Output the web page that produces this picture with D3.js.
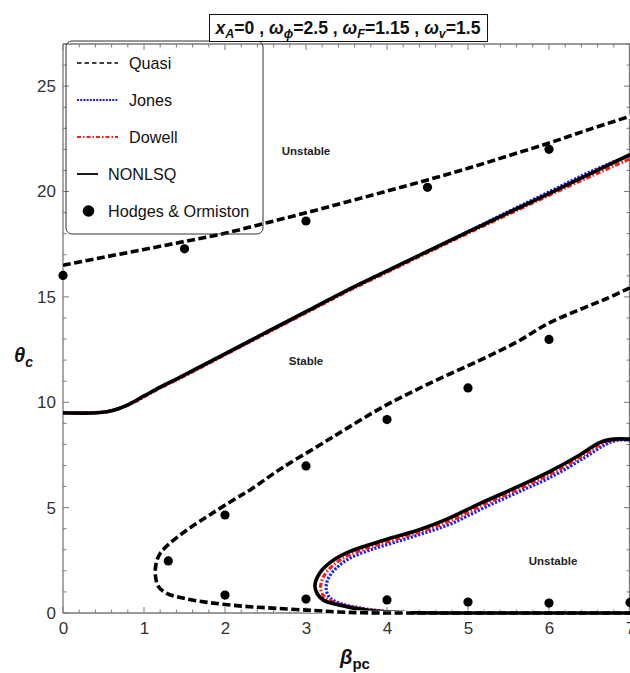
<!DOCTYPE html>
<html><head><meta charset="utf-8">
<script src="https://cdn.jsdelivr.net/npm/d3@7"></script>
<style>body{margin:0;background:#fff}svg{display:block;font-family:"Liberation Sans",Arial,sans-serif}</style>
</head><body><svg id="c" width="630" height="673"></svg>
<script>
// ---------- data ----------
const xTicks = [0,1,2,3,4,5,6,7];
const yTicks = [0,5,10,15,20,25];
const quasiUpper = [[0,16.5],[0.5,16.88],[1,17.25],[1.5,17.63],[2,18.02],[2.5,18.5],[3,18.99],[3.5,19.5],[4,20.02],[4.5,20.55],[5,21.1],[5.5,21.7],[6,22.3],[6.5,22.95],[7,23.57]];
const quasiLower = [[7,15.43],[6.7,14.9],[6.38,14.4],[6.0,13.76],[5.6,12.85],[5.15,12.0],[4.5,10.85],[3.96,9.8],[3.5,8.75],[3.17,7.97],[2.69,6.85],[2.31,5.84],[2.14,5.45],[1.81,4.65],[1.53,3.94],[1.32,3.31],[1.2,2.83],[1.15,2.35],[1.14,1.8],[1.18,1.25],[1.28,0.93],[1.49,0.7],[1.81,0.49],[2.23,0.32],[2.64,0.22],[3.09,0.12],[3.4,0.05],[3.7,0.01],[4.2,0],[7,0]];
const nonlsqUpper = [[0,9.5],[0.4,9.5],[0.6,9.6],[0.8,9.88],[1.0,10.3],[1.2,10.72],[1.4,11.1],[2,12.3],[2.5,13.3],[3,14.3],[3.5,15.3],[4,16.23],[4.5,17.16],[5,18.08],[5.5,19.0],[6,19.9],[6.5,20.83],[7,21.75]];
const jonesUpper  = [[0,9.5],[0.4,9.5],[0.6,9.6],[0.8,9.88],[1.0,10.28],[1.2,10.7],[1.4,11.08],[2,12.28],[2.5,13.28],[3,14.28],[3.5,15.28],[4,16.22],[4.5,17.16],[5,18.1],[5.5,19.05],[6,19.98],[6.5,20.92],[7,21.72]];
const dowellUpper = [[0,9.5],[0.4,9.5],[0.6,9.6],[0.8,9.86],[1.0,10.26],[1.2,10.68],[1.4,11.05],[2,12.25],[2.5,13.25],[3,14.24],[3.5,15.24],[4,16.17],[4.5,17.1],[5,18.02],[5.5,18.92],[6,19.82],[6.5,20.7],[7,21.55]];
const nonlsqLoop = [[7,8.25],[6.8,8.25],[6.63,8.1],[6.38,7.5],[6.0,6.7],[5.56,5.9],[5.15,5.2],[4.74,4.45],[4.4,3.95],[4.04,3.55],[3.75,3.2],[3.5,2.85],[3.3,2.4],[3.17,1.9],[3.11,1.3],[3.14,0.9],[3.22,0.6],[3.5,0.3],[3.9,0.08],[4.3,0.01],[4.8,0],[7,0]];
const jonesLoop  = [[7,8.2],[6.85,8.2],[6.7,8.0],[6.45,7.4],[6.05,6.5],[5.6,5.7],[5.2,5.0],[4.8,4.25],[4.45,3.78],[4.1,3.36],[3.8,3.0],[3.55,2.62],[3.38,2.15],[3.27,1.6],[3.25,1.1],[3.3,0.7],[3.45,0.42],[3.7,0.22],[4.0,0.07],[4.4,0.01],[4.8,0],[7,0]];
const dowellLoop = [[7,8.22],[6.82,8.22],[6.66,8.05],[6.41,7.45],[6.02,6.6],[5.58,5.8],[5.17,5.1],[4.77,4.35],[4.42,3.87],[4.07,3.45],[3.77,3.1],[3.52,2.73],[3.34,2.28],[3.22,1.75],[3.18,1.2],[3.22,0.8],[3.35,0.5],[3.6,0.26],[3.95,0.08],[4.35,0.01],[4.8,0],[7,0]];
const hodges = [[0,16.02],[1.5,17.28],[3,18.6],[4.5,20.2],[6,22.0],[6,12.98],[5,10.68],[4,9.18],[3,6.98],[2,4.65],[1.3,2.47],[2,0.85],[3,0.66],[4,0.62],[5,0.52],[6,0.47],[7,0.5]];
const regionLabels = [{t:"Unstable",x:3,y:21.9},{t:"Stable",x:3,y:11.9},{t:"Unstable",x:6.05,y:2.4}];
const legendItems = ["Quasi","Jones","Dowell","NONLSQ","Hodges & Ormiston"];

// ---------- chart ----------
const svg = d3.select("#c");
const x = d3.scaleLinear().domain([0,7]).range([63,630]);
const y = d3.scaleLinear().domain([0,27]).range([613,44]);
const gray = "#7a7a7a";

svg.append("defs").append("clipPath").attr("id","clip").append("rect")
  .attr("x",58).attr("y",40).attr("width",572.5).attr("height",578);

// frame
const frame = svg.append("g");
frame.append("line").attr("x1",63).attr("x2",630).attr("y1",613).attr("y2",613).attr("stroke",gray).attr("stroke-width",1.3);
frame.append("line").attr("x1",63).attr("x2",63).attr("y1",44).attr("y2",613).attr("stroke",gray).attr("stroke-width",1.3);
frame.append("line").attr("x1",63).attr("x2",630).attr("y1",44).attr("y2",44).attr("stroke",gray).attr("stroke-width",1.3);
frame.append("line").attr("x1",629.5).attr("x2",629.5).attr("y1",44).attr("y2",613).attr("stroke",gray).attr("stroke-width",1.3);

const xMinor = d3.range(0,7.001,0.2);
const yMinor = d3.range(0,27.001,1);
xMinor.forEach(v=>{
  const major = Math.abs(v-Math.round(v))<1e-6;
  const L = major?6:3.5;
  frame.append("line").attr("x1",x(v)).attr("x2",x(v)).attr("y1",613).attr("y2",613-L).attr("stroke",gray);
  frame.append("line").attr("x1",x(v)).attr("x2",x(v)).attr("y1",44).attr("y2",44+L).attr("stroke",gray);
});
yMinor.forEach(v=>{
  const major = v%5===0;
  const L = major?6:3.5;
  frame.append("line").attr("x1",63).attr("x2",63+L).attr("y1",y(v)).attr("y2",y(v)).attr("stroke",gray);
  frame.append("line").attr("x1",630).attr("x2",630-L).attr("y1",y(v)).attr("y2",y(v)).attr("stroke",gray);
});

// tick labels via d3 axes
const xAxis = svg.append("g").attr("transform","translate(0,613)")
  .call(d3.axisBottom(x).tickValues(xTicks).tickSize(0).tickPadding(9).tickFormat(d3.format("d")));
xAxis.select(".domain").remove();
xAxis.selectAll("text").attr("font-size",17).attr("fill","#333").attr("font-family","Liberation Sans, Arial");
const yAxis = svg.append("g").attr("transform","translate(63,0)")
  .call(d3.axisLeft(y).tickValues(yTicks).tickSize(0).tickPadding(7).tickFormat(d3.format("d")));
yAxis.select(".domain").remove();
yAxis.selectAll("text").attr("font-size",17).attr("fill","#333").attr("font-family","Liberation Sans, Arial");

// curves
const line = d3.line().x(d=>x(d[0])).y(d=>y(d[1])).curve(d3.curveCatmullRom.alpha(0.5));
const plot = svg.append("g").attr("clip-path","url(#clip)");
const styles = {
  jones:{stroke:"#1a1aff",w:3.2,dash:"2.2,1.6"},
  dowell:{stroke:"#ff1a1a",w:3.2,dash:"5,2,1.5,2"},
  nonlsq:{stroke:"#000",w:3.6,dash:null},
  quasi:{stroke:"#000",w:3.6,dash:"8,3.5"}
};
function draw(data,s){
  plot.append("path").datum(data).attr("d",line).attr("fill","none")
    .attr("stroke",s.stroke).attr("stroke-width",s.w).attr("stroke-dasharray",s.dash)
    .attr("stroke-linejoin","round");
}
draw(jonesLoop,styles.jones);
draw(dowellLoop,styles.dowell);
draw(jonesUpper,styles.jones);
draw(dowellUpper,styles.dowell);
draw(nonlsqUpper,styles.nonlsq);
draw(nonlsqLoop,styles.nonlsq);
plot.append("path").datum(quasiUpper).attr("d",line).attr("fill","none").attr("stroke","#fff").attr("stroke-width",4.6);
plot.append("path").datum(quasiLower).attr("d",line).attr("fill","none").attr("stroke","#fff").attr("stroke-width",4.6);
draw(quasiUpper,styles.quasi);
draw(quasiLower,styles.quasi);
plot.append("path").datum(nonlsqLoop.slice(-3)).attr("d",line).attr("fill","none").attr("stroke","#000").attr("stroke-width",3.6);

plot.selectAll("circle.h").data(hodges).join("circle").attr("class","h")
  .attr("cx",d=>x(d[0])).attr("cy",d=>y(d[1])).attr("r",4.6).attr("fill","#000");

// region labels
svg.selectAll("text.reg").data(regionLabels).join("text").attr("class","reg")
  .attr("x",d=>x(d.x)).attr("y",d=>y(d.y)).attr("text-anchor","middle").attr("dominant-baseline","middle")
  .attr("font-size",11.5).attr("font-weight","bold").attr("fill","#222").text(d=>d.t);

// legend
const lg = svg.append("g");
lg.append("rect").attr("x",66).attr("y",41).attr("width",197).attr("height",193).attr("rx",6)
  .attr("fill","none").attr("stroke","#333").attr("stroke-width",1);
const ly = [63,100,137,174,211];
const lstyle = [
  {stroke:"#000",w:1.6,dash:"4.5,3",x2:118,tx:129},
  {stroke:"#1a1aff",w:2,dash:"2,1.2",x2:118,tx:129},
  {stroke:"#ff1a1a",w:2,dash:"4,2,1.5,2",x2:118,tx:129},
  {stroke:"#000",w:1.8,dash:null,x2:98,tx:108},
  {dot:true,tx:108}
];
legendItems.forEach((t,i)=>{
  const s = lstyle[i];
  if(s.dot){
    lg.append("circle").attr("cx",88.5).attr("cy",ly[i]).attr("r",5.8).attr("fill","#000");
  } else {
    lg.append("line").attr("x1",77).attr("x2",s.x2).attr("y1",ly[i]).attr("y2",ly[i])
      .attr("stroke",s.stroke).attr("stroke-width",s.w).attr("stroke-dasharray",s.dash);
  }
  lg.append("text").attr("x",s.tx).attr("y",ly[i]).attr("dominant-baseline","central")
    .attr("font-size",16.2).attr("fill","#111").text(t);
});

// title box
const tb = svg.append("g");
tb.append("rect").attr("x",209.5).attr("y",14.5).attr("width",278).attr("height",27).attr("fill","#fff").attr("stroke","#111").attr("stroke-width",1);
const tt = tb.append("text").attr("x",348).attr("y",34).attr("text-anchor","middle")
  .attr("font-size",17.6).attr("font-weight","bold").attr("fill","#111");
const parts = [["x",0,"italic"],["A",1,"italic"],["=0 , ",0,"normal"],["ω",0,"italic"],["ϕ",1,"italic"],["=2.5 , ",0,"normal"],["ω",0,"italic"],["F",1,"italic"],["=1.15 , ",0,"normal"],["ω",0,"italic"],["v",1,"italic"],["=1.5",0,"normal"]];
let prevSub=false;
parts.forEach(p=>{
  const ts = tt.append("tspan").text(p[0]).attr("font-style",p[2]);
  if(p[1]){ ts.attr("font-size",12.5).attr("dy",4); prevSub=true; }
  else if(prevSub){ ts.attr("dy",-4); prevSub=false; }
});

// axis titles
const yl = svg.append("text").attr("x",14).attr("y",362).attr("font-size",20).attr("font-weight","bold").attr("font-style","italic").attr("fill","#111");
yl.append("tspan").text("θ");
yl.append("tspan").text("c").attr("font-size",14).attr("dy",5);
const xl = svg.append("text").attr("x",355).attr("y",664).attr("text-anchor","middle").attr("font-size",20).attr("font-weight","bold").attr("fill","#111");
xl.append("tspan").text("β").attr("font-style","italic");
xl.append("tspan").text("pc").attr("font-size",15).attr("dy",5);
</script></body></html>
